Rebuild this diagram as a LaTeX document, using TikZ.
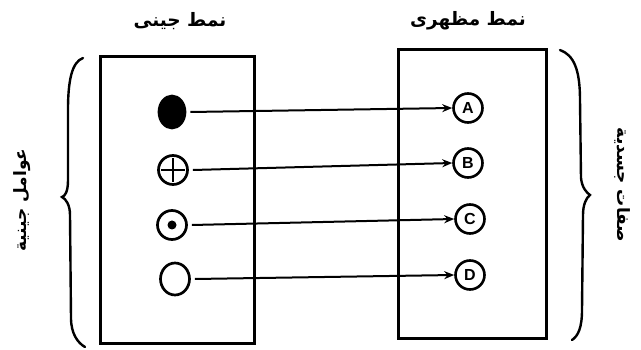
\documentclass[tikz,border=0pt]{standalone}
\usepackage{fontspec}
\usetikzlibrary{arrows.meta,shapes.geometric}
\TeXXeTstate=1
\newfontfamily\arabicfont[Script=Arabic,BoldFont=DejaVu Sans Bold]{DejaVu Sans}
\newfontfamily\latinsans[BoldFont=Liberation Sans Bold]{Liberation Sans}
\tikzset{
  box/.style={draw, line width=3pt, inner sep=0pt},
  sym/.style={ellipse, draw, line width=2.7pt, inner sep=0pt},
  letter/.style={circle, draw, line width=2.6pt, inner sep=0pt, minimum size=29pt, font=\latinsans\bfseries\fontsize{16}{16}\selectfont},
  link/.style={line width=2pt, -{Stealth[length=10pt,width=8pt]}},
  brace/.style={line width=2.4pt, line cap=round},
  title/.style={font=\arabicfont\bfseries\fontsize{18.5}{20}\selectfont, inner sep=0pt},
  side/.style={font=\arabicfont\bfseries\fontsize{17}{19}\selectfont, inner sep=0pt}
}
\begin{document}
\begin{tikzpicture}[x=1pt,y=-1pt]
\useasboundingbox[fill=white] (0,0) rectangle (641,350);
% titles
\node[title] (t1) at (180,21) {\beginR نمط جينى\endR};
\node[title] (t2) at (468,21) {\beginR نمط مظهرى\endR};
% side labels
\node[side, rotate=90] (l1) at (22,200) {\beginR عوامل جينية\endR};
\node[side, rotate=-90] (l2) at (622,185) {\beginR صفات جسدية\endR};
% boxes
\node[box, minimum width=154pt, minimum height=287pt] (b1) at (177,200.5) {};
\node[box, minimum width=148pt, minimum height=289pt] (b2) at (472,194.5) {};
% left symbols
\node[sym, fill=black, minimum width=26pt, minimum height=32pt] (s1) at (172,112) {};
\node[sym, minimum width=29pt, minimum height=29pt] (s2) at (173,170) {};
\node[sym, minimum width=29pt, minimum height=29pt] (s3) at (172,225) {};
\node[sym, minimum width=29pt, minimum height=32pt] (s4) at (175,279) {};
\draw[line width=2.6pt] ([yshift=-4pt]s2.north) -- ([yshift=4pt]s2.south);
\draw[line width=2.6pt] ([xshift=4pt]s2.west) -- ([xshift=-4pt]s2.east);
\fill (s3.center) circle (4.5pt);
% right letters
\node[letter] (A) at (468,108) {A};
\node[letter] (B) at (468,163) {B};
\node[letter] (C) at (470,219) {C};
\node[letter] (D) at (470,275) {D};
% links
\draw[link] ([xshift=4pt]s1.east) -- (A.west);
\draw[link] ([xshift=4pt]s2.east) -- (B.west);
\draw[link] ([xshift=4pt]s3.east) -- (C.west);
\draw[link] ([xshift=4pt]s4.east) -- (D.west);
% braces
\draw[brace] (83,58) .. controls (72,62) and (68,80) .. (68,110) -- (68,180)
  .. controls (68,192) and (65,196) .. (62,197)
  .. controls (66,199) and (70,205) .. (70,215) -- (71,318)
  .. controls (71,334) and (78,343) .. (85,347);
\draw[brace] (560,50) .. controls (574,55) and (580,70) .. (580,100) -- (581,178)
  .. controls (582,188) and (587,193) .. (590,195)
  .. controls (586,198) and (583,205) .. (583,215) -- (582,310)
  .. controls (582,328) and (578,336) .. (572,340);
\end{tikzpicture}
\end{document}
